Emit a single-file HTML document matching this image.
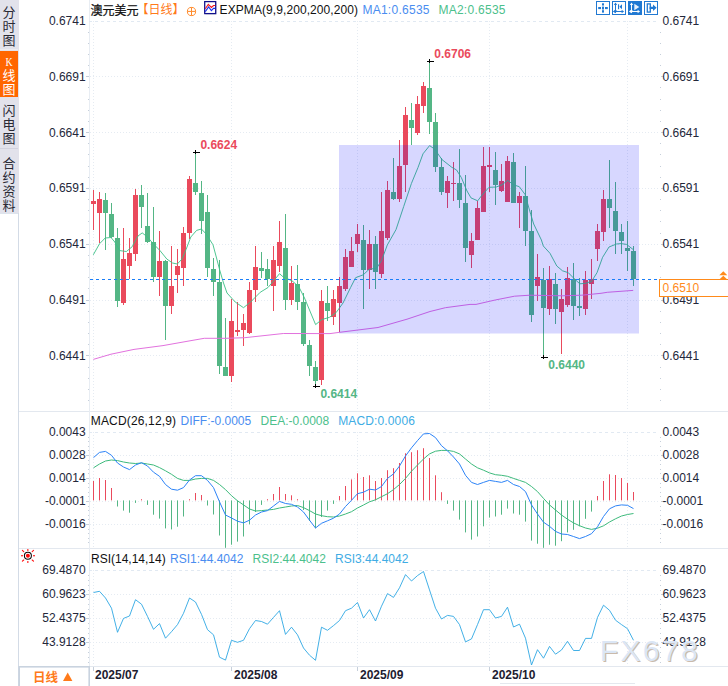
<!DOCTYPE html>
<html lang="zh-CN">
<head>
<meta charset="utf-8">
<title>澳元美元 日线</title>
<style>
html,body{margin:0;padding:0;background:#fff;}
body{width:728px;height:686px;overflow:hidden;position:relative;font-family:"Liberation Sans","Noto Sans CJK SC",sans-serif;}
#side{position:absolute;left:0;top:0;width:19px;height:213px;background:#e2e2eb;}
.tab{position:absolute;left:0;width:18px;text-align:center;font-size:13px;line-height:14px;color:#2a2a35;}
.tab span{display:block;height:14px;}
#t1{top:0;height:50px;padding-top:6px;box-sizing:border-box;}
#t2{top:51px;height:46px;background:#ff6600;color:#fff;padding-top:5px;box-sizing:border-box;}
#t2 .k{font-family:"Liberation Serif",serif;font-size:13px;height:13px;line-height:13px;transform:scaleX(0.76);position:relative;top:-1px;}
#t3{top:98px;height:51px;padding-top:6px;box-sizing:border-box;border-bottom:1px solid #d2d2de;}
#t4{top:150px;height:63px;padding-top:7px;box-sizing:border-box;}
#t1{border-bottom:1px solid #ececf2;}
svg{position:absolute;left:0;top:0;}
</style>
</head>
<body>
<div id="side">
<div class="tab" id="t1"><span>分</span><span>时</span><span>图</span></div>
<div class="tab" id="t2"><span class="k">K</span><span>线</span><span>图</span></div>
<div class="tab" id="t3"><span>闪</span><span>电</span><span>图</span></div>
<div class="tab" id="t4"><span>合</span><span>约</span><span>资</span><span>料</span></div>
</div>
<svg width="728" height="686" viewBox="0 0 728 686">
<g shape-rendering="crispEdges">
<line x1="19" y1="411.5" x2="728" y2="411.5" stroke="#e3e8ef"/>
<line x1="19" y1="548.5" x2="728" y2="548.5" stroke="#e3e8ef"/>
<line x1="19" y1="666.5" x2="728" y2="666.5" stroke="#e3e8ef"/>
<line x1="89.5" y1="0" x2="89.5" y2="686" stroke="#e8edf3"/>
<line x1="18.5" y1="213" x2="18.5" y2="686" stroke="#d3dbe6"/>
<line x1="0" y1="213.5" x2="18" y2="213.5" stroke="#dde4ed"/>
</g>
<g stroke="#e5ebf2" stroke-width="1" fill="none" shape-rendering="crispEdges">
<line x1="89" y1="21.5" x2="659" y2="21.5" stroke="#e1e9f2" stroke-dasharray="3 3"/>
<line x1="89" y1="432.5" x2="659" y2="432.5" stroke="#e1e9f2" stroke-dasharray="3 3"/>
<line x1="89" y1="570.5" x2="659" y2="570.5" stroke="#e1e9f2" stroke-dasharray="3 3"/>
<line x1="90" y1="76.5" x2="659" y2="76.5" stroke-dasharray="1 2"/>
<line x1="90" y1="132.5" x2="659" y2="132.5" stroke-dasharray="1 2"/>
<line x1="90" y1="188.5" x2="659" y2="188.5" stroke-dasharray="1 2"/>
<line x1="90" y1="244.5" x2="659" y2="244.5" stroke-dasharray="1 2"/>
<line x1="90" y1="300.5" x2="659" y2="300.5" stroke-dasharray="1 2"/>
<line x1="90" y1="355.5" x2="659" y2="355.5" stroke-dasharray="1 2"/>
<line x1="90" y1="455.5" x2="659" y2="455.5" stroke-dasharray="1 2"/>
<line x1="90" y1="478.5" x2="659" y2="478.5" stroke-dasharray="1 2"/>
<line x1="90" y1="501.5" x2="659" y2="501.5" stroke-dasharray="1 2"/>
<line x1="90" y1="524.5" x2="659" y2="524.5" stroke-dasharray="1 2"/>
<line x1="90" y1="594.5" x2="659" y2="594.5" stroke-dasharray="1 2"/>
<line x1="90" y1="618.5" x2="659" y2="618.5" stroke-dasharray="1 2"/>
<line x1="90" y1="642.5" x2="659" y2="642.5" stroke-dasharray="1 2"/>
<line x1="93.5" y1="21" x2="93.5" y2="411" stroke-dasharray="1 2"/>
<line x1="93.5" y1="432" x2="93.5" y2="548" stroke-dasharray="1 2"/>
<line x1="93.5" y1="570" x2="93.5" y2="666" stroke-dasharray="1 2"/>
<line x1="231.5" y1="21" x2="231.5" y2="411" stroke-dasharray="1 2"/>
<line x1="231.5" y1="432" x2="231.5" y2="548" stroke-dasharray="1 2"/>
<line x1="231.5" y1="570" x2="231.5" y2="666" stroke-dasharray="1 2"/>
<line x1="357.5" y1="21" x2="357.5" y2="411" stroke-dasharray="1 2"/>
<line x1="357.5" y1="432" x2="357.5" y2="548" stroke-dasharray="1 2"/>
<line x1="357.5" y1="570" x2="357.5" y2="666" stroke-dasharray="1 2"/>
<line x1="489.5" y1="21" x2="489.5" y2="411" stroke-dasharray="1 2"/>
<line x1="489.5" y1="432" x2="489.5" y2="548" stroke-dasharray="1 2"/>
<line x1="489.5" y1="570" x2="489.5" y2="666" stroke-dasharray="1 2"/>
<line x1="627.5" y1="21" x2="627.5" y2="411" stroke-dasharray="1 2"/>
<line x1="627.5" y1="432" x2="627.5" y2="548" stroke-dasharray="1 2"/>
<line x1="627.5" y1="570" x2="627.5" y2="666" stroke-dasharray="1 2"/>
</g>
<g shape-rendering="crispEdges" fill="#c6cfda">
<rect x="88" y="32" width="1" height="1"/>
<rect x="660" y="32" width="1" height="1"/>
<rect x="88" y="43" width="1" height="1"/>
<rect x="660" y="43" width="1" height="1"/>
<rect x="88" y="54" width="1" height="1"/>
<rect x="660" y="54" width="1" height="1"/>
<rect x="88" y="65" width="1" height="1"/>
<rect x="660" y="65" width="1" height="1"/>
<rect x="86" y="76" width="3" height="1"/>
<rect x="661" y="76" width="3" height="1"/>
<rect x="88" y="87" width="1" height="1"/>
<rect x="660" y="87" width="1" height="1"/>
<rect x="88" y="99" width="1" height="1"/>
<rect x="660" y="99" width="1" height="1"/>
<rect x="88" y="110" width="1" height="1"/>
<rect x="660" y="110" width="1" height="1"/>
<rect x="88" y="121" width="1" height="1"/>
<rect x="660" y="121" width="1" height="1"/>
<rect x="86" y="132" width="3" height="1"/>
<rect x="661" y="132" width="3" height="1"/>
<rect x="88" y="143" width="1" height="1"/>
<rect x="660" y="143" width="1" height="1"/>
<rect x="88" y="154" width="1" height="1"/>
<rect x="660" y="154" width="1" height="1"/>
<rect x="88" y="166" width="1" height="1"/>
<rect x="660" y="166" width="1" height="1"/>
<rect x="88" y="177" width="1" height="1"/>
<rect x="660" y="177" width="1" height="1"/>
<rect x="86" y="188" width="3" height="1"/>
<rect x="661" y="188" width="3" height="1"/>
<rect x="88" y="199" width="1" height="1"/>
<rect x="660" y="199" width="1" height="1"/>
<rect x="88" y="210" width="1" height="1"/>
<rect x="660" y="210" width="1" height="1"/>
<rect x="88" y="221" width="1" height="1"/>
<rect x="660" y="221" width="1" height="1"/>
<rect x="88" y="233" width="1" height="1"/>
<rect x="660" y="233" width="1" height="1"/>
<rect x="86" y="244" width="3" height="1"/>
<rect x="661" y="244" width="3" height="1"/>
<rect x="88" y="255" width="1" height="1"/>
<rect x="660" y="255" width="1" height="1"/>
<rect x="88" y="266" width="1" height="1"/>
<rect x="660" y="266" width="1" height="1"/>
<rect x="88" y="277" width="1" height="1"/>
<rect x="660" y="277" width="1" height="1"/>
<rect x="88" y="288" width="1" height="1"/>
<rect x="660" y="288" width="1" height="1"/>
<rect x="86" y="300" width="3" height="1"/>
<rect x="661" y="300" width="3" height="1"/>
<rect x="88" y="311" width="1" height="1"/>
<rect x="660" y="311" width="1" height="1"/>
<rect x="88" y="322" width="1" height="1"/>
<rect x="660" y="322" width="1" height="1"/>
<rect x="88" y="333" width="1" height="1"/>
<rect x="660" y="333" width="1" height="1"/>
<rect x="88" y="344" width="1" height="1"/>
<rect x="660" y="344" width="1" height="1"/>
<rect x="86" y="355" width="3" height="1"/>
<rect x="661" y="355" width="3" height="1"/>
<rect x="88" y="367" width="1" height="1"/>
<rect x="660" y="367" width="1" height="1"/>
<rect x="88" y="378" width="1" height="1"/>
<rect x="660" y="378" width="1" height="1"/>
<rect x="88" y="389" width="1" height="1"/>
<rect x="660" y="389" width="1" height="1"/>
<rect x="88" y="400" width="1" height="1"/>
<rect x="660" y="400" width="1" height="1"/>
<rect x="88" y="437" width="1" height="1"/>
<rect x="660" y="437" width="1" height="1"/>
<rect x="88" y="441" width="1" height="1"/>
<rect x="660" y="441" width="1" height="1"/>
<rect x="88" y="446" width="1" height="1"/>
<rect x="660" y="446" width="1" height="1"/>
<rect x="88" y="450" width="1" height="1"/>
<rect x="660" y="450" width="1" height="1"/>
<rect x="86" y="455" width="3" height="1"/>
<rect x="661" y="455" width="3" height="1"/>
<rect x="88" y="460" width="1" height="1"/>
<rect x="660" y="460" width="1" height="1"/>
<rect x="88" y="464" width="1" height="1"/>
<rect x="660" y="464" width="1" height="1"/>
<rect x="88" y="469" width="1" height="1"/>
<rect x="660" y="469" width="1" height="1"/>
<rect x="88" y="473" width="1" height="1"/>
<rect x="660" y="473" width="1" height="1"/>
<rect x="86" y="478" width="3" height="1"/>
<rect x="661" y="478" width="3" height="1"/>
<rect x="88" y="483" width="1" height="1"/>
<rect x="660" y="483" width="1" height="1"/>
<rect x="88" y="487" width="1" height="1"/>
<rect x="660" y="487" width="1" height="1"/>
<rect x="88" y="492" width="1" height="1"/>
<rect x="660" y="492" width="1" height="1"/>
<rect x="88" y="496" width="1" height="1"/>
<rect x="660" y="496" width="1" height="1"/>
<rect x="86" y="501" width="3" height="1"/>
<rect x="661" y="501" width="3" height="1"/>
<rect x="88" y="506" width="1" height="1"/>
<rect x="660" y="506" width="1" height="1"/>
<rect x="88" y="510" width="1" height="1"/>
<rect x="660" y="510" width="1" height="1"/>
<rect x="88" y="515" width="1" height="1"/>
<rect x="660" y="515" width="1" height="1"/>
<rect x="88" y="519" width="1" height="1"/>
<rect x="660" y="519" width="1" height="1"/>
<rect x="86" y="524" width="3" height="1"/>
<rect x="661" y="524" width="3" height="1"/>
<rect x="88" y="529" width="1" height="1"/>
<rect x="660" y="529" width="1" height="1"/>
<rect x="88" y="533" width="1" height="1"/>
<rect x="660" y="533" width="1" height="1"/>
<rect x="88" y="538" width="1" height="1"/>
<rect x="660" y="538" width="1" height="1"/>
<rect x="88" y="542" width="1" height="1"/>
<rect x="660" y="542" width="1" height="1"/>
<rect x="88" y="575" width="1" height="1"/>
<rect x="660" y="575" width="1" height="1"/>
<rect x="88" y="580" width="1" height="1"/>
<rect x="660" y="580" width="1" height="1"/>
<rect x="88" y="585" width="1" height="1"/>
<rect x="660" y="585" width="1" height="1"/>
<rect x="88" y="590" width="1" height="1"/>
<rect x="660" y="590" width="1" height="1"/>
<rect x="86" y="594" width="3" height="1"/>
<rect x="661" y="594" width="3" height="1"/>
<rect x="88" y="599" width="1" height="1"/>
<rect x="660" y="599" width="1" height="1"/>
<rect x="88" y="604" width="1" height="1"/>
<rect x="660" y="604" width="1" height="1"/>
<rect x="88" y="609" width="1" height="1"/>
<rect x="660" y="609" width="1" height="1"/>
<rect x="88" y="614" width="1" height="1"/>
<rect x="660" y="614" width="1" height="1"/>
<rect x="86" y="618" width="3" height="1"/>
<rect x="661" y="618" width="3" height="1"/>
<rect x="88" y="623" width="1" height="1"/>
<rect x="660" y="623" width="1" height="1"/>
<rect x="88" y="628" width="1" height="1"/>
<rect x="660" y="628" width="1" height="1"/>
<rect x="88" y="633" width="1" height="1"/>
<rect x="660" y="633" width="1" height="1"/>
<rect x="88" y="638" width="1" height="1"/>
<rect x="660" y="638" width="1" height="1"/>
<rect x="86" y="642" width="3" height="1"/>
<rect x="661" y="642" width="3" height="1"/>
<rect x="88" y="647" width="1" height="1"/>
<rect x="660" y="647" width="1" height="1"/>
<rect x="88" y="652" width="1" height="1"/>
<rect x="660" y="652" width="1" height="1"/>
<rect x="88" y="657" width="1" height="1"/>
<rect x="660" y="657" width="1" height="1"/>
<rect x="88" y="662" width="1" height="1"/>
<rect x="660" y="662" width="1" height="1"/>
<rect x="93" y="667" width="1" height="4"/>
<rect x="231" y="667" width="1" height="4"/>
<rect x="357" y="667" width="1" height="4"/>
<rect x="489" y="667" width="1" height="4"/>
</g>
<g shape-rendering="crispEdges">
<rect x="93" y="190" width="1" height="40" fill="#ea4a5c"/>
<rect x="91" y="201" width="5" height="3" fill="#ea4a5c"/>
<rect x="99" y="192" width="1" height="51" fill="#ea4a5c"/>
<rect x="97" y="199" width="5" height="14" fill="#ea4a5c"/>
<rect x="105" y="193" width="1" height="57" fill="#54b685"/>
<rect x="103" y="200" width="5" height="13" fill="#54b685"/>
<rect x="111" y="203" width="1" height="35" fill="#54b685"/>
<rect x="109" y="214" width="5" height="23" fill="#54b685"/>
<rect x="117" y="228" width="1" height="79" fill="#54b685"/>
<rect x="115" y="238" width="5" height="63" fill="#54b685"/>
<rect x="123" y="228" width="1" height="77" fill="#ea4a5c"/>
<rect x="121" y="259" width="5" height="44" fill="#ea4a5c"/>
<rect x="129" y="238" width="1" height="41" fill="#ea4a5c"/>
<rect x="127" y="253" width="5" height="13" fill="#ea4a5c"/>
<rect x="135" y="189" width="1" height="72" fill="#ea4a5c"/>
<rect x="133" y="195" width="5" height="59" fill="#ea4a5c"/>
<rect x="141" y="185" width="1" height="43" fill="#54b685"/>
<rect x="139" y="195" width="5" height="12" fill="#54b685"/>
<rect x="147" y="193" width="1" height="50" fill="#54b685"/>
<rect x="145" y="226" width="5" height="16" fill="#54b685"/>
<rect x="153" y="207" width="1" height="75" fill="#54b685"/>
<rect x="151" y="242" width="5" height="35" fill="#54b685"/>
<rect x="159" y="231" width="1" height="65" fill="#ea4a5c"/>
<rect x="157" y="261" width="5" height="16" fill="#ea4a5c"/>
<rect x="165" y="260" width="1" height="80" fill="#54b685"/>
<rect x="163" y="261" width="5" height="45" fill="#54b685"/>
<rect x="171" y="246" width="1" height="68" fill="#ea4a5c"/>
<rect x="169" y="286" width="5" height="20" fill="#ea4a5c"/>
<rect x="177" y="249" width="1" height="44" fill="#ea4a5c"/>
<rect x="175" y="266" width="5" height="9" fill="#ea4a5c"/>
<rect x="183" y="227" width="1" height="59" fill="#ea4a5c"/>
<rect x="181" y="233" width="5" height="35" fill="#ea4a5c"/>
<rect x="189" y="176" width="1" height="63" fill="#ea4a5c"/>
<rect x="187" y="179" width="5" height="54" fill="#ea4a5c"/>
<rect x="195" y="152" width="1" height="43" fill="#54b685"/>
<rect x="193" y="183" width="5" height="9" fill="#54b685"/>
<rect x="201" y="181" width="1" height="53" fill="#54b685"/>
<rect x="199" y="193" width="5" height="28" fill="#54b685"/>
<rect x="207" y="195" width="1" height="82" fill="#54b685"/>
<rect x="205" y="212" width="5" height="56" fill="#54b685"/>
<rect x="213" y="258" width="1" height="38" fill="#54b685"/>
<rect x="211" y="269" width="5" height="13" fill="#54b685"/>
<rect x="219" y="260" width="1" height="114" fill="#54b685"/>
<rect x="217" y="282" width="5" height="84" fill="#54b685"/>
<rect x="225" y="318" width="1" height="58" fill="#54b685"/>
<rect x="223" y="367" width="5" height="9" fill="#54b685"/>
<rect x="231" y="299" width="1" height="83" fill="#ea4a5c"/>
<rect x="229" y="321" width="5" height="55" fill="#ea4a5c"/>
<rect x="237" y="302" width="1" height="34" fill="#ea4a5c"/>
<rect x="235" y="330" width="5" height="2" fill="#ea4a5c"/>
<rect x="243" y="314" width="1" height="32" fill="#ea4a5c"/>
<rect x="241" y="323" width="5" height="7" fill="#ea4a5c"/>
<rect x="249" y="282" width="1" height="52" fill="#ea4a5c"/>
<rect x="247" y="290" width="5" height="43" fill="#ea4a5c"/>
<rect x="255" y="246" width="1" height="56" fill="#ea4a5c"/>
<rect x="253" y="267" width="5" height="23" fill="#ea4a5c"/>
<rect x="261" y="252" width="1" height="26" fill="#54b685"/>
<rect x="259" y="268" width="5" height="3" fill="#54b685"/>
<rect x="267" y="259" width="1" height="27" fill="#54b685"/>
<rect x="265" y="269" width="5" height="10" fill="#54b685"/>
<rect x="273" y="246" width="1" height="65" fill="#ea4a5c"/>
<rect x="271" y="260" width="5" height="26" fill="#ea4a5c"/>
<rect x="279" y="221" width="1" height="51" fill="#ea4a5c"/>
<rect x="277" y="242" width="5" height="24" fill="#ea4a5c"/>
<rect x="285" y="214" width="1" height="96" fill="#54b685"/>
<rect x="283" y="248" width="5" height="52" fill="#54b685"/>
<rect x="291" y="266" width="1" height="39" fill="#ea4a5c"/>
<rect x="289" y="283" width="5" height="17" fill="#ea4a5c"/>
<rect x="297" y="265" width="1" height="45" fill="#54b685"/>
<rect x="295" y="284" width="5" height="18" fill="#54b685"/>
<rect x="303" y="293" width="1" height="53" fill="#54b685"/>
<rect x="301" y="302" width="5" height="42" fill="#54b685"/>
<rect x="309" y="340" width="1" height="36" fill="#54b685"/>
<rect x="307" y="345" width="5" height="21" fill="#54b685"/>
<rect x="315" y="361" width="1" height="25" fill="#54b685"/>
<rect x="313" y="367" width="5" height="14" fill="#54b685"/>
<rect x="321" y="290" width="1" height="95" fill="#ea4a5c"/>
<rect x="319" y="301" width="5" height="79" fill="#ea4a5c"/>
<rect x="327" y="286" width="1" height="35" fill="#54b685"/>
<rect x="325" y="303" width="5" height="8" fill="#54b685"/>
<rect x="333" y="290" width="1" height="35" fill="#ea4a5c"/>
<rect x="331" y="299" width="5" height="18" fill="#ea4a5c"/>
<rect x="339" y="277" width="1" height="55" fill="#ea4a5c"/>
<rect x="337" y="286" width="5" height="17" fill="#ea4a5c"/>
<rect x="345" y="249" width="1" height="42" fill="#ea4a5c"/>
<rect x="343" y="257" width="5" height="32" fill="#ea4a5c"/>
<rect x="351" y="237" width="1" height="30" fill="#ea4a5c"/>
<rect x="349" y="251" width="5" height="16" fill="#ea4a5c"/>
<rect x="357" y="224" width="1" height="28" fill="#ea4a5c"/>
<rect x="355" y="234" width="5" height="10" fill="#ea4a5c"/>
<rect x="363" y="225" width="1" height="84" fill="#54b685"/>
<rect x="361" y="240" width="5" height="30" fill="#54b685"/>
<rect x="369" y="230" width="1" height="59" fill="#ea4a5c"/>
<rect x="367" y="244" width="5" height="26" fill="#ea4a5c"/>
<rect x="375" y="236" width="1" height="53" fill="#54b685"/>
<rect x="373" y="244" width="5" height="28" fill="#54b685"/>
<rect x="381" y="192" width="1" height="86" fill="#ea4a5c"/>
<rect x="379" y="231" width="5" height="43" fill="#ea4a5c"/>
<rect x="387" y="181" width="1" height="59" fill="#ea4a5c"/>
<rect x="385" y="190" width="5" height="48" fill="#ea4a5c"/>
<rect x="393" y="158" width="1" height="42" fill="#54b685"/>
<rect x="391" y="192" width="5" height="7" fill="#54b685"/>
<rect x="399" y="140" width="1" height="62" fill="#ea4a5c"/>
<rect x="397" y="166" width="5" height="33" fill="#ea4a5c"/>
<rect x="405" y="107" width="1" height="85" fill="#ea4a5c"/>
<rect x="403" y="115" width="5" height="50" fill="#ea4a5c"/>
<rect x="411" y="103" width="1" height="42" fill="#54b685"/>
<rect x="409" y="120" width="5" height="8" fill="#54b685"/>
<rect x="417" y="96" width="1" height="39" fill="#ea4a5c"/>
<rect x="415" y="104" width="5" height="29" fill="#ea4a5c"/>
<rect x="423" y="82" width="1" height="31" fill="#ea4a5c"/>
<rect x="421" y="86" width="5" height="20" fill="#ea4a5c"/>
<rect x="429" y="62" width="1" height="72" fill="#54b685"/>
<rect x="427" y="88" width="5" height="34" fill="#54b685"/>
<rect x="435" y="113" width="1" height="59" fill="#54b685"/>
<rect x="433" y="122" width="5" height="45" fill="#54b685"/>
<rect x="441" y="158" width="1" height="37" fill="#54b685"/>
<rect x="439" y="167" width="5" height="25" fill="#54b685"/>
<rect x="447" y="176" width="1" height="32" fill="#ea4a5c"/>
<rect x="445" y="181" width="5" height="12" fill="#ea4a5c"/>
<rect x="453" y="162" width="1" height="39" fill="#ea4a5c"/>
<rect x="451" y="183" width="5" height="1" fill="#ea4a5c"/>
<rect x="459" y="149" width="1" height="59" fill="#54b685"/>
<rect x="457" y="183" width="5" height="17" fill="#54b685"/>
<rect x="465" y="175" width="1" height="87" fill="#54b685"/>
<rect x="463" y="203" width="5" height="45" fill="#54b685"/>
<rect x="471" y="233" width="1" height="35" fill="#ea4a5c"/>
<rect x="469" y="241" width="5" height="14" fill="#ea4a5c"/>
<rect x="477" y="201" width="1" height="39" fill="#ea4a5c"/>
<rect x="475" y="208" width="5" height="32" fill="#ea4a5c"/>
<rect x="483" y="147" width="1" height="65" fill="#ea4a5c"/>
<rect x="481" y="166" width="5" height="46" fill="#ea4a5c"/>
<rect x="489" y="147" width="1" height="45" fill="#ea4a5c"/>
<rect x="487" y="165" width="5" height="2" fill="#ea4a5c"/>
<rect x="495" y="152" width="1" height="53" fill="#54b685"/>
<rect x="493" y="170" width="5" height="15" fill="#54b685"/>
<rect x="501" y="164" width="1" height="28" fill="#ea4a5c"/>
<rect x="499" y="181" width="5" height="10" fill="#ea4a5c"/>
<rect x="507" y="156" width="1" height="46" fill="#ea4a5c"/>
<rect x="505" y="161" width="5" height="41" fill="#ea4a5c"/>
<rect x="513" y="153" width="1" height="50" fill="#54b685"/>
<rect x="511" y="162" width="5" height="41" fill="#54b685"/>
<rect x="519" y="192" width="1" height="36" fill="#ea4a5c"/>
<rect x="517" y="196" width="5" height="7" fill="#ea4a5c"/>
<rect x="525" y="166" width="1" height="80" fill="#54b685"/>
<rect x="523" y="196" width="5" height="35" fill="#54b685"/>
<rect x="531" y="210" width="1" height="112" fill="#54b685"/>
<rect x="529" y="231" width="5" height="84" fill="#54b685"/>
<rect x="537" y="254" width="1" height="47" fill="#ea4a5c"/>
<rect x="535" y="277" width="5" height="9" fill="#ea4a5c"/>
<rect x="543" y="268" width="1" height="89" fill="#54b685"/>
<rect x="541" y="280" width="5" height="28" fill="#54b685"/>
<rect x="549" y="266" width="1" height="49" fill="#ea4a5c"/>
<rect x="547" y="279" width="5" height="30" fill="#ea4a5c"/>
<rect x="555" y="273" width="1" height="51" fill="#54b685"/>
<rect x="553" y="284" width="5" height="25" fill="#54b685"/>
<rect x="561" y="289" width="1" height="65" fill="#ea4a5c"/>
<rect x="559" y="299" width="5" height="13" fill="#ea4a5c"/>
<rect x="567" y="267" width="1" height="40" fill="#ea4a5c"/>
<rect x="565" y="278" width="5" height="27" fill="#ea4a5c"/>
<rect x="573" y="263" width="1" height="57" fill="#54b685"/>
<rect x="571" y="279" width="5" height="27" fill="#54b685"/>
<rect x="579" y="278" width="1" height="38" fill="#54b685"/>
<rect x="577" y="306" width="5" height="2" fill="#54b685"/>
<rect x="585" y="271" width="1" height="44" fill="#ea4a5c"/>
<rect x="583" y="280" width="5" height="29" fill="#ea4a5c"/>
<rect x="591" y="259" width="1" height="40" fill="#ea4a5c"/>
<rect x="589" y="279" width="5" height="5" fill="#ea4a5c"/>
<rect x="597" y="224" width="1" height="37" fill="#ea4a5c"/>
<rect x="595" y="231" width="5" height="18" fill="#ea4a5c"/>
<rect x="603" y="190" width="1" height="51" fill="#ea4a5c"/>
<rect x="601" y="199" width="5" height="33" fill="#ea4a5c"/>
<rect x="609" y="160" width="1" height="68" fill="#54b685"/>
<rect x="607" y="199" width="5" height="9" fill="#54b685"/>
<rect x="615" y="182" width="1" height="72" fill="#54b685"/>
<rect x="613" y="211" width="5" height="20" fill="#54b685"/>
<rect x="621" y="224" width="1" height="30" fill="#54b685"/>
<rect x="619" y="232" width="5" height="9" fill="#54b685"/>
<rect x="627" y="221" width="1" height="50" fill="#54b685"/>
<rect x="625" y="248" width="5" height="3" fill="#54b685"/>
<rect x="633" y="246" width="1" height="40" fill="#54b685"/>
<rect x="631" y="251" width="5" height="28" fill="#54b685"/>
</g>
<polyline points="93.3,359.4 111,354.2 134,349.4 163,345.6 190,340.8 204.3,338.3 226,338.3 244.8,337.7 283.3,333.5 330,333.6 339.6,332.3 378,327.5 407,319.2 430,311.5 445.4,307.7 470,304.4 476,304.4 495.2,300 514.5,296.2 529.8,295.2 562.5,295.8 581.8,295.2 601,293.3 607.2,292.3 633.2,290.4" fill="none" stroke="#e272de" stroke-width="1" stroke-linejoin="round" />
<polyline points="93.3,254.8 99.5,243.8 105.2,238 111,237.5 114.8,242 119.7,250.6 126.4,251.5 132.2,246.7 138,236 142.2,232.9 147.5,237 153.3,243.8 160,250.6 166.8,259 172.5,263 177.3,264 182,259 186,249.6 190.8,237 196.6,230.4 201.4,229 206.2,234 213,244.8 216,256 219.7,270 223.5,283 227,293 235.2,302 243.5,307.7 250.6,302 260.2,292.3 268,287.5 273.7,280.8 279.5,273.7 283.3,277 292,280.8 298.7,286.5 304.5,298 315.6,324.6 321.8,319.6 329.5,317.3 336.2,312.5 343,303 350.6,287.5 355.6,277.7 363.3,274.8 369,269.4 376.8,268 381.6,260.4 387.3,245 396,229.6 403.7,206.5 411.4,183.5 418,167.5 423,153.8 429.6,145.6 434.5,149 442,159.6 451.8,167.3 456.6,170 461.4,177.7 467,191 471,197.9 477.7,200.8 481.8,195.4 489,187.3 496.2,187 502,184.8 507.7,180.4 513.5,184.8 519.3,186.7 525,194.4 530.8,214.6 533.7,224 541.4,240 543.3,246 550,253.3 556.8,266 562.5,270.8 568.3,272.7 574,278.5 579.8,283.8 585.6,283.3 591.6,281.3 597,272.7 602.6,257.3 609,247 616.5,244 621,243.6 626.5,244.4 633.8,250" fill="none" stroke="#3cbf86" stroke-width="0.9" stroke-linejoin="round" />
<rect x="339" y="145" width="300" height="188.5" fill="rgb(0,0,255)" fill-opacity="0.157"/>
<line x1="90" y1="279.5" x2="659" y2="279.5" stroke="#1a7ef8" stroke-width="1.2" stroke-dasharray="3 3"/>
<g shape-rendering="crispEdges" fill="#000"><rect x="192.5" y="151.5" width="7" height="1"/><rect x="195" y="149.5" width="1" height="4"/></g>
<g shape-rendering="crispEdges" fill="#000"><rect x="426.5" y="61" width="7" height="1"/><rect x="429" y="59" width="1" height="4"/></g>
<g shape-rendering="crispEdges" fill="#000"><rect x="312.5" y="386" width="7" height="1"/><rect x="315" y="384" width="1" height="4"/></g>
<g shape-rendering="crispEdges" fill="#000"><rect x="540.5" y="357" width="7" height="1"/><rect x="543" y="355" width="1" height="4"/></g>
<g>
<rect x="93" y="481" width="1" height="19.4" fill="#ea4a5c"/>
<rect x="99" y="478" width="1" height="22.4" fill="#ea4a5c"/>
<rect x="105" y="480" width="1" height="20.4" fill="#ea4a5c"/>
<rect x="111" y="488" width="1" height="12.4" fill="#ea4a5c"/>
<rect x="117" y="500.4" width="1" height="6.1" fill="#54b685"/>
<rect x="123" y="500.4" width="1" height="10.2" fill="#54b685"/>
<rect x="129" y="500.4" width="1" height="12.3" fill="#54b685"/>
<rect x="135" y="500.4" width="1" height="2.5" fill="#54b685"/>
<rect x="141" y="499.2" width="1" height="1.2" fill="#ea4a5c"/>
<rect x="147" y="500.4" width="1" height="4.5" fill="#54b685"/>
<rect x="153" y="500.4" width="1" height="14.3" fill="#54b685"/>
<rect x="159" y="500.4" width="1" height="18.2" fill="#54b685"/>
<rect x="165" y="500.4" width="1" height="28" fill="#54b685"/>
<rect x="171" y="500.4" width="1" height="29" fill="#54b685"/>
<rect x="177" y="500.4" width="1" height="26.3" fill="#54b685"/>
<rect x="183" y="500.4" width="1" height="16.1" fill="#54b685"/>
<rect x="189" y="499.2" width="1" height="1.2" fill="#ea4a5c"/>
<rect x="195" y="493" width="1" height="7.4" fill="#ea4a5c"/>
<rect x="201" y="495" width="1" height="5.4" fill="#ea4a5c"/>
<rect x="207" y="500.4" width="1" height="5.1" fill="#54b685"/>
<rect x="213" y="500.4" width="1" height="14.1" fill="#54b685"/>
<rect x="219" y="500.4" width="1" height="35.1" fill="#54b685"/>
<rect x="225" y="500.4" width="1" height="47.4" fill="#54b685"/>
<rect x="231" y="500.4" width="1" height="44.3" fill="#54b685"/>
<rect x="237" y="500.4" width="1" height="41.2" fill="#54b685"/>
<rect x="243" y="500.4" width="1" height="36.1" fill="#54b685"/>
<rect x="249" y="500.4" width="1" height="23.9" fill="#54b685"/>
<rect x="255" y="500.4" width="1" height="11.6" fill="#54b685"/>
<rect x="261" y="500.4" width="1" height="4.5" fill="#54b685"/>
<rect x="267" y="499.2" width="1" height="1.2" fill="#ea4a5c"/>
<rect x="273" y="494" width="1" height="6.4" fill="#ea4a5c"/>
<rect x="279" y="487" width="1" height="13.4" fill="#ea4a5c"/>
<rect x="285" y="494" width="1" height="6.4" fill="#ea4a5c"/>
<rect x="291" y="495.3" width="1" height="5.1" fill="#ea4a5c"/>
<rect x="297" y="499.2" width="1" height="1.2" fill="#ea4a5c"/>
<rect x="303" y="500.4" width="1" height="9.6" fill="#54b685"/>
<rect x="309" y="500.4" width="1" height="20.6" fill="#54b685"/>
<rect x="315" y="500.4" width="1" height="28" fill="#54b685"/>
<rect x="321" y="500.4" width="1" height="16.6" fill="#54b685"/>
<rect x="327" y="500.4" width="1" height="10.2" fill="#54b685"/>
<rect x="333" y="500.4" width="1" height="3.5" fill="#54b685"/>
<rect x="339" y="496" width="1" height="4.4" fill="#ea4a5c"/>
<rect x="345" y="486" width="1" height="14.4" fill="#ea4a5c"/>
<rect x="351" y="479.4" width="1" height="21" fill="#ea4a5c"/>
<rect x="357" y="473.3" width="1" height="27.1" fill="#ea4a5c"/>
<rect x="363" y="477" width="1" height="23.4" fill="#ea4a5c"/>
<rect x="369" y="475.3" width="1" height="25.1" fill="#ea4a5c"/>
<rect x="375" y="481" width="1" height="19.4" fill="#ea4a5c"/>
<rect x="381" y="478" width="1" height="22.4" fill="#ea4a5c"/>
<rect x="387" y="470.2" width="1" height="30.2" fill="#ea4a5c"/>
<rect x="393" y="468.2" width="1" height="32.2" fill="#ea4a5c"/>
<rect x="399" y="463" width="1" height="37.4" fill="#ea4a5c"/>
<rect x="405" y="453.3" width="1" height="47.1" fill="#ea4a5c"/>
<rect x="411" y="452.2" width="1" height="48.2" fill="#ea4a5c"/>
<rect x="417" y="450.2" width="1" height="50.2" fill="#ea4a5c"/>
<rect x="423" y="448.2" width="1" height="52.2" fill="#ea4a5c"/>
<rect x="429" y="458" width="1" height="42.4" fill="#ea4a5c"/>
<rect x="435" y="475.3" width="1" height="25.1" fill="#ea4a5c"/>
<rect x="441" y="492.2" width="1" height="8.2" fill="#ea4a5c"/>
<rect x="447" y="500.4" width="1" height="3.5" fill="#54b685"/>
<rect x="453" y="500.4" width="1" height="10.2" fill="#54b685"/>
<rect x="459" y="500.4" width="1" height="19.2" fill="#54b685"/>
<rect x="465" y="500.4" width="1" height="32" fill="#54b685"/>
<rect x="471" y="500.4" width="1" height="39.2" fill="#54b685"/>
<rect x="477" y="500.4" width="1" height="36.1" fill="#54b685"/>
<rect x="483" y="500.4" width="1" height="25.9" fill="#54b685"/>
<rect x="489" y="500.4" width="1" height="17.2" fill="#54b685"/>
<rect x="495" y="500.4" width="1" height="16.1" fill="#54b685"/>
<rect x="501" y="500.4" width="1" height="14.3" fill="#54b685"/>
<rect x="507" y="500.4" width="1" height="8.2" fill="#54b685"/>
<rect x="513" y="500.4" width="1" height="13.1" fill="#54b685"/>
<rect x="519" y="500.4" width="1" height="14.3" fill="#54b685"/>
<rect x="525" y="500.4" width="1" height="21.2" fill="#54b685"/>
<rect x="531" y="500.4" width="1" height="40.2" fill="#54b685"/>
<rect x="537" y="500.4" width="1" height="43.3" fill="#54b685"/>
<rect x="543" y="500.4" width="1" height="47.4" fill="#54b685"/>
<rect x="549" y="500.4" width="1" height="44.3" fill="#54b685"/>
<rect x="555" y="500.4" width="1" height="45.3" fill="#54b685"/>
<rect x="561" y="500.4" width="1" height="40.8" fill="#54b685"/>
<rect x="567" y="500.4" width="1" height="32" fill="#54b685"/>
<rect x="573" y="500.4" width="1" height="29.4" fill="#54b685"/>
<rect x="579" y="500.4" width="1" height="25.9" fill="#54b685"/>
<rect x="585" y="500.4" width="1" height="18.4" fill="#54b685"/>
<rect x="591" y="500.4" width="1" height="11.2" fill="#54b685"/>
<rect x="597" y="496" width="1" height="4.4" fill="#ea4a5c"/>
<rect x="603" y="481" width="1" height="19.4" fill="#ea4a5c"/>
<rect x="609" y="474.3" width="1" height="26.1" fill="#ea4a5c"/>
<rect x="615" y="475" width="1" height="25.4" fill="#ea4a5c"/>
<rect x="621" y="478" width="1" height="22.4" fill="#ea4a5c"/>
<rect x="627" y="482.9" width="1" height="17.5" fill="#ea4a5c"/>
<rect x="633" y="492" width="1" height="8.4" fill="#ea4a5c"/>
</g>
<polyline points="93.5,467.8 99.5,464 105.5,461 111.5,460 117.5,460.6 123.5,462 129.5,463 135.5,463.5 141.5,463 147.5,464 153.5,465 159.5,467.6 165.5,470.8 171.5,474.3 177.5,478.4 183.5,480.4 189.5,480.4 195.5,479 201.5,478.4 207.5,478.4 213.5,480.4 219.5,484.5 225.5,489.6 231.5,495.7 237.5,500.8 243.5,504.9 249.5,509 255.5,511 261.5,510.6 267.5,510 273.5,509.4 279.5,508 285.5,507 291.5,506 297.5,505.5 303.5,507.6 309.5,510.6 315.5,514 321.5,515.7 327.5,516.7 333.5,517 339.5,516 345.5,514 351.5,511.7 357.5,508 363.5,505 369.5,501.8 375.5,499.8 381.5,496.7 387.5,493.7 393.5,489.6 399.5,484.5 405.5,478.4 411.5,471.2 417.5,465 423.5,459 429.5,453.9 435.5,451.2 441.5,450.4 447.5,450.4 453.5,451.4 459.5,453.9 465.5,459 471.5,464 477.5,467.8 483.5,470.2 489.5,472.9 495.5,474.7 501.5,475.3 507.5,476.3 513.5,478.4 519.5,480.4 525.5,482.4 531.5,486.5 537.5,491.6 543.5,498.4 549.5,504.9 555.5,510 561.5,515 567.5,519.2 573.5,522.9 579.5,525.7 585.5,528 591.5,529.4 597.5,528.2 603.5,525.8 609.5,522 615.5,518.8 621.5,516 627.5,514.5 633.5,513.5" fill="none" stroke="#3dba7c" stroke-width="1" stroke-linejoin="round" />
<polyline points="93.5,457.6 99.5,452.4 105.5,451.4 111.5,455.3 117.5,463 123.5,467 129.5,469.6 135.5,465 141.5,462.7 147.5,466 153.5,472.2 159.5,476.3 165.5,484.5 171.5,489.2 177.5,490.2 183.5,487.6 189.5,480 195.5,475.7 201.5,475.7 207.5,480.4 213.5,487.6 219.5,501.8 225.5,515 231.5,518 237.5,521.2 243.5,522.9 249.5,520.2 255.5,515 261.5,512 267.5,510.6 273.5,506 279.5,501.4 285.5,503.5 291.5,504.3 297.5,507 303.5,512 309.5,520.2 315.5,528 321.5,523.3 327.5,520.8 333.5,518.2 339.5,514 345.5,506.5 351.5,500.3 357.5,493.7 363.5,492.2 369.5,489.2 375.5,490 381.5,486.5 387.5,478.4 393.5,473.9 399.5,466 405.5,456 411.5,447.8 417.5,440.6 423.5,433.9 429.5,433.5 435.5,437.6 441.5,445.7 447.5,450.8 453.5,457 459.5,464 465.5,475.3 471.5,482.4 477.5,484.5 483.5,482.4 489.5,480.4 495.5,481.4 501.5,482.4 507.5,480.4 513.5,484.5 519.5,486.5 525.5,491.6 531.5,504.9 537.5,514 543.5,522.2 549.5,526.3 555.5,531.4 561.5,534 567.5,534.5 573.5,536.5 579.5,538.6 585.5,536.5 591.5,533.7 597.5,526.8 603.5,516.5 609.5,508.8 615.5,505.9 621.5,504.9 627.5,505.3 633.5,508.6" fill="none" stroke="#2c83f7" stroke-width="1" stroke-linejoin="round" />
<polyline points="93.5,592.5 99.5,591.3 105.5,598 111.5,608.2 117.5,632.3 123.5,618.4 129.5,616 135.5,599.7 141.5,604.2 147.5,616.4 153.5,629.3 159.5,623.6 165.5,638.2 171.5,631.7 177.5,624.6 183.5,613.3 189.5,598 195.5,602 201.5,614.4 207.5,629.7 213.5,634.8 219.5,657.2 225.5,660.1 231.5,640.3 237.5,642.3 243.5,640.3 249.5,628.7 255.5,620.5 261.5,621.5 267.5,624.2 273.5,617.4 279.5,610.7 285.5,634.4 291.5,627.2 297.5,634.8 303.5,648 309.5,655.2 315.5,660.3 321.5,627.2 327.5,630.3 333.5,625.6 339.5,620.5 345.5,610.7 351.5,608.2 357.5,602.5 363.5,618 369.5,609.7 375.5,621 381.5,606.2 387.5,593.6 393.5,597.4 399.5,587.8 405.5,574.6 411.5,581 417.5,575.6 423.5,571.5 429.5,589.9 435.5,608.2 441.5,619 447.5,615.4 453.5,616.4 459.5,624.6 465.5,641.9 471.5,638.9 477.5,624.6 483.5,609.7 489.5,609.7 495.5,618 501.5,616.4 507.5,607.2 513.5,627 519.5,624.2 525.5,638.2 531.5,665 537.5,649.7 543.5,658.2 549.5,646.4 555.5,654.2 561.5,650 567.5,641.3 573.5,650.5 579.5,650.5 585.5,638.4 591.5,638.4 597.5,617.4 603.5,605.2 609.5,610.3 615.5,620.2 621.5,624.6 627.5,628.7 633.5,640.3" fill="none" stroke="#2ea7e3" stroke-width="0.9" stroke-linejoin="round" />
<g font-family="'Liberation Sans', 'Noto Sans CJK SC', sans-serif" font-size="12" fill="#23273a">
<text x="85.6" y="24.9" text-anchor="end">0.6741</text>
<text x="662.5" y="24.9">0.6741</text>
<text x="85.6" y="80.7" text-anchor="end">0.6691</text>
<text x="662.5" y="80.7">0.6691</text>
<text x="85.6" y="136.5" text-anchor="end">0.6641</text>
<text x="662.5" y="136.5">0.6641</text>
<text x="85.6" y="192.3" text-anchor="end">0.6591</text>
<text x="662.5" y="192.3">0.6591</text>
<text x="85.6" y="248.1" text-anchor="end">0.6541</text>
<text x="662.5" y="248.1">0.6541</text>
<text x="85.6" y="304" text-anchor="end">0.6491</text>
<text x="662.5" y="304">0.6491</text>
<text x="85.6" y="359.8" text-anchor="end">0.6441</text>
<text x="662.5" y="359.8">0.6441</text>
<text x="85.6" y="436.2" text-anchor="end">0.0043</text>
<text x="662.5" y="436.2">0.0043</text>
<text x="85.6" y="459" text-anchor="end">0.0028</text>
<text x="662.5" y="459">0.0028</text>
<text x="85.6" y="482.2" text-anchor="end">0.0014</text>
<text x="662.5" y="482.2">0.0014</text>
<text x="85.6" y="505.2" text-anchor="end">-0.0001</text>
<text x="662.5" y="505.2">-0.0001</text>
<text x="85.6" y="528.2" text-anchor="end">-0.0016</text>
<text x="662.5" y="528.2">-0.0016</text>
<text x="85.6" y="574.1" text-anchor="end">69.4870</text>
<text x="662.5" y="574.1">69.4870</text>
<text x="85.6" y="598.3" text-anchor="end">60.9623</text>
<text x="662.5" y="598.3">60.9623</text>
<text x="85.6" y="622.3" text-anchor="end">52.4375</text>
<text x="662.5" y="622.3">52.4375</text>
<text x="85.6" y="646.3" text-anchor="end">43.9128</text>
<text x="662.5" y="646.3">43.9128</text>
<text x="90.6" y="14.6" fill="#111" stroke="#111" stroke-width="0.25">澳元美元</text>
<text x="136.5" y="14.4" fill="#ff7a1a">【日线】</text>
<text x="219.6" y="14" fill="#111" letter-spacing="0.08">EXPMA(9,9,200,200,200)</text>
<text x="362.4" y="14" letter-spacing="0.27" fill="#4a8df0">MA1:0.6535</text>
<text x="438.4" y="14" letter-spacing="0.27" fill="#4cc08c">MA2:0.6535</text>
<text x="90.8" y="425" letter-spacing="0.16" fill="#111">MACD(26,12,9)</text>
<text x="180.5" y="425" fill="#4a8df0">DIFF:-0.0005</text>
<text x="260.5" y="425" fill="#4cc08c">DEA:-0.0008</text>
<text x="338.2" y="425" letter-spacing="0.13" fill="#40ace4">MACD:0.0006</text>
<text x="91" y="562.5" fill="#111">RSI(14,14,14)</text>
<text x="170" y="562.5" fill="#4a8df0">RSI1:44.4042</text>
<text x="252.5" y="562.5" fill="#4cc08c">RSI2:44.4042</text>
<text x="335" y="562.5" fill="#40ace4">RSI3:44.4042</text>
<text x="95" y="679.3" font-weight="bold" fill="#1d2030">2025/07</text>
<text x="234" y="679.3" font-weight="bold" fill="#1d2030">2025/08</text>
<text x="360" y="679.3" font-weight="bold" fill="#1d2030">2025/09</text>
<text x="492" y="679.3" font-weight="bold" fill="#1d2030">2025/10</text>
<text x="200.4" y="148.8" font-weight="bold" fill="#ea4a5c">0.6624</text>
<text x="434.3" y="57.8" font-weight="bold" fill="#ea4a5c">0.6706</text>
<text x="320.4" y="398" font-weight="bold" fill="#54b685">0.6414</text>
<text x="548.3" y="368.8" font-weight="bold" fill="#54b685">0.6440</text>
</g>
<rect x="659.5" y="279.5" width="69" height="17" fill="#fff" stroke="#ff8a1a" shape-rendering="crispEdges"/>
<text x="662.5" y="292.2" font-family="'Liberation Sans', sans-serif" font-size="12" fill="#ff8a1a">0.6510</text>
<path d="M719.3 275.3 L723.3 271.3 L727.3 275.3 Z M719.3 279.5 L723.3 275.7 L727.3 279.5 Z" fill="#ff8a1a"/>
<g stroke="#ff8a2a" fill="none" stroke-width="1"><circle cx="191.5" cy="11.5" r="4.1"/><line x1="187.4" y1="11.4" x2="195.6" y2="11.4"/><line x1="191.5" y1="7.4" x2="191.5" y2="15.6"/></g>
<g><rect x="205.4" y="2.4" width="11" height="12" fill="#c8c8c8"/><rect x="204.7" y="1.6" width="11" height="12" fill="#fff" stroke="#10108c" stroke-width="1.25"/><polyline points="205.3,8.7 208.3,4.4 211.4,7.5 213.5,5.5 215.2,5.5" fill="none" stroke="#f01820" stroke-width="1.1"/><polyline points="205.3,11.6 208.6,7 211.4,10.7 213.5,8.4 215.2,8.4" fill="none" stroke="#1a30f0" stroke-width="1.1"/></g>
<g shape-rendering="crispEdges">
<rect x="596.5" y="1.5" width="13" height="13" fill="#fff" stroke="#2179d2"/>
<rect x="612.5" y="1.5" width="13" height="13" fill="#fff" stroke="#2179d2"/>
<rect x="628" y="1" width="14" height="14" fill="#2179d2"/>
<rect x="644.5" y="1.5" width="13" height="13" fill="#fff" stroke="#2179d2"/>
</g>
<g fill="#2179d2"><rect x="598.2" y="7" width="2.8" height="2.1"/><rect x="605" y="7" width="2.8" height="2.1"/><rect x="602" y="3.3" width="2" height="2.2"/><rect x="602" y="6.6" width="2" height="2.9"/><rect x="602" y="10.2" width="2" height="2.4"/></g>
<g fill="#2179d2"><rect x="615" y="3.4" width="1" height="9.2"/><rect x="613.6" y="11" width="9.6" height="1"/><path d="M613.8 5 L615.5 2.6 L617.2 5 Z"/><path d="M613.8 10.6 L615.5 13.2 L617.2 10.6 Z"/><path d="M621.6 9.8 L624 11.5 L621.6 13.2 Z"/><path d="M615.4 9.8 L613 11.5 L615.4 13.2 Z"/></g>
<g fill="#2179d2"><rect x="618" y="4.3" width="1.1" height="4.9"/><path d="M622 4.3 L619.4 6.75 L622 9.2 Z"/></g>
<g fill="#fff"><rect x="631" y="3.4" width="1" height="9.2"/><rect x="629.6" y="11" width="9.6" height="1"/><path d="M629.8 5 L631.5 2.6 L633.2 5 Z"/><path d="M629.8 10.6 L631.5 13.2 L633.2 10.6 Z"/><path d="M637.6 9.8 L640 11.5 L637.6 13.2 Z"/><path d="M631.4 9.8 L629 11.5 L631.4 13.2 Z"/></g>
<path d="M634.3 3.8 L639.3 7 L634.3 10.2 Z" fill="#e8f1fb"/>
<rect x="647.3" y="3.9" width="3" height="8.2" fill="none" stroke="#2179d2" stroke-width="1.3"/>
<path d="M649.6 6.7 L653 6.7 L653 4.6 L656.6 7.8 L653 11 L653 8.9 L649.6 8.9 Z" fill="#2179d2"/>
<g><circle cx="27.9" cy="555.8" r="3.5" fill="#fff" stroke="#0a0a0a" stroke-width="1.05"/><circle cx="27.9" cy="555.8" r="2" fill="#ff0a0a"/><g fill="#ff1414"><rect x="27.3" y="549" width="1.1" height="2"/><rect x="27.3" y="561" width="1.1" height="2"/><rect x="21" y="555.2" width="2" height="1.1"/><rect x="33" y="555.2" width="2" height="1.1"/></g><g stroke="#ff1414" stroke-width="1.15" stroke-linecap="round"><line x1="22.4" y1="550.4" x2="23.7" y2="551.6"/><line x1="32.2" y1="560" x2="33.5" y2="561.2"/><line x1="33.5" y1="550.4" x2="32.2" y2="551.6"/><line x1="23.7" y1="560" x2="22.4" y2="561.2"/></g></g>
<rect x="19.2" y="666.8" width="70" height="21" fill="#fff" stroke="#c9d3df" stroke-width="1.6"/>
<text x="33" y="682" font-family="'Liberation Sans', 'Noto Sans CJK SC', sans-serif" font-size="12.5" font-weight="bold" fill="#ff7a1a">日线</text>
<path d="M63 681 L67.7 672.6 L72.4 681 Z" fill="#ff7a1a"/>
<line x1="500" y1="683.5" x2="635" y2="683.5" stroke="#e4e8ee"/>
<g font-family="'Liberation Sans', sans-serif" font-size="30" letter-spacing="2.4"><text x="600.9" y="662.4" fill="#b9a48f" fill-opacity="0.75">FX678</text><text x="599.7" y="661.3" fill="#dbe6f5">FX678</text></g>
</svg>
</body>
</html>
